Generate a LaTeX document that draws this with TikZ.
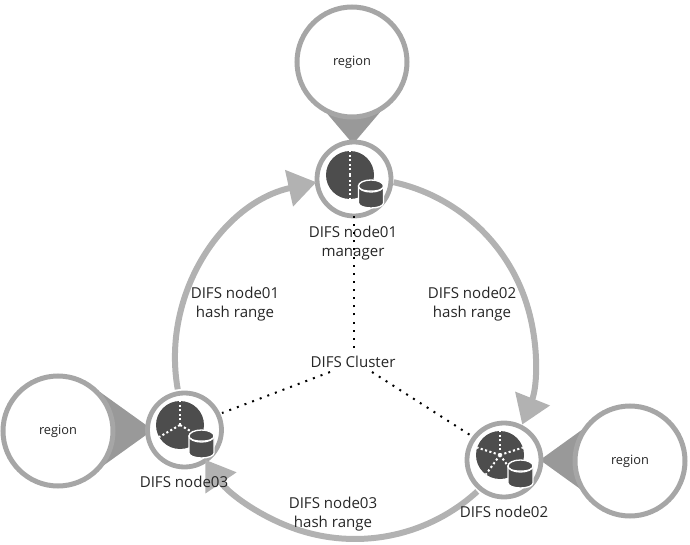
\documentclass[tikz,border=0pt]{standalone}
\usepackage{fontspec}
\setmainfont{Open Sans}
\usetikzlibrary{arrows.meta,calc}
\definecolor{ringgray}{HTML}{A6A6A6}
\definecolor{arcgray}{HTML}{B2B2B2}
\definecolor{wedgegray}{HTML}{999999}
\definecolor{piecol}{HTML}{4D4D4D}
\tikzset{
 px/.style={x=0.75pt,y=0.75pt},
 regionc/.style={circle,draw=ringgray,line width=3.75pt,fill=white,minimum size=82.5pt,inner sep=0pt,font=\fontsize{9.6}{10}\selectfont,text=black!85},
 hostc/.style={circle,draw=ringgray,line width=3.6pt,fill=white,minimum size=55.5pt,inner sep=0pt},
 wedge/.style={fill=wedgegray,draw=none},
 flow/.style={draw=arcgray,line width=4.5pt,-{Triangle[length=21pt,width=27pt]}},
 dots/.style={line width=1.5pt,dash pattern=on 1.5pt off 4.6pt,black},
 lbl/.style={font=\fontsize{11.3}{14.25}\selectfont,align=center,inner sep=0pt,text=black!85},
}
\newcommand{\piechart}[3]{%
 \fill[piecol] (#1,#2) circle[radius=24];
 \foreach \a in {#3} \draw[white,line width=1.5pt,dash pattern=on 1.6pt off 1.8pt] (#1,#2) -- ++(\a:24);
}
\newcommand{\drum}[2]{%
 \fill[piecol,draw=white,line width=1pt] (#1-12.5,#2-6) -- (#1-12.5,#2-23) arc[x radius=12.5,y radius=5,start angle=180,end angle=360] -- (#1+12.5,#2-6) -- cycle;
 \fill[piecol,draw=white,line width=1pt] (#1,#2-6) ellipse[x radius=12.5,y radius=6];
 \draw[white,line width=0.8pt] (#1-11,#2-8) arc[x radius=11,y radius=3,start angle=180,end angle=360];
}
\begin{document}
\begin{tikzpicture}[px]
\useasboundingbox (0,0) rectangle (690,544);
\coordinate (hub) at (355,186);
% wedges
\fill[wedge] (353,400) -- (319,440) -- (387,440) -- cycle;
\fill[wedge] (153,114) -- (100,152) -- (100,76) -- cycle;
\fill[wedge] (540,84) -- (590,120) -- (590,48) -- cycle;
% regions
\node[regionc] (regionA) at (352,482) {region};
\node[regionc] (regionB) at (58,113) {region};
\node[regionc] (regionC) at (630,83) {region};
% hosts
\node[hostc] (n01) at (354,365) {};
\node[hostc] (n02) at (504,84) {};
\node[hostc] (n03) at (184.5,114) {};
\piechart{350}{369}{90,270}
\piechart{500}{89}{90,162,18,234,306}
\piechart{180}{119}{90,210,330}
\drum{371}{364}
\drum{520.5}{84}
\drum{201.5}{114}
% flows
\draw[flow] ($(hub)+(190:180)$) arc[start angle=190,end angle=102.4,radius=180];
\draw[flow] ($(hub)+(77.6:180)$) arc[start angle=77.6,end angle=-21.7,radius=180];
\draw[flow] ($(hub)+(-47.5:181)$) arc[start angle=-47.5,end angle=-145.8,radius=181];
% labels
\node[lbl] (l1) at (353,301) {DIFS node01\\manager};
\node[lbl] (l2) at (504,32) {DIFS node02};
\node[lbl] (l3) at (184,62) {DIFS node03};
\node[lbl] (h1) at (235,240) {DIFS node01\\hash range};
\node[lbl] (h2) at (472,240) {DIFS node02\\hash range};
\node[lbl] (h3) at (333,30) {DIFS node03\\hash range};
\node[lbl] (cluster) at (353,182) {DIFS Cluster};
% dotted links
\coordinate (d1) at (354,196);
\coordinate (d2) at (354,331);
\coordinate (d3) at (330,172);
\coordinate (d4) at (222,131);
\coordinate (d5) at (372,172);
\coordinate (d6) at (470,109);
\draw[dots] (d1) -- (d2);
\draw[dots] (d3) -- (d4);
\draw[dots] (d5) -- (d6);
\end{tikzpicture}
\end{document}
